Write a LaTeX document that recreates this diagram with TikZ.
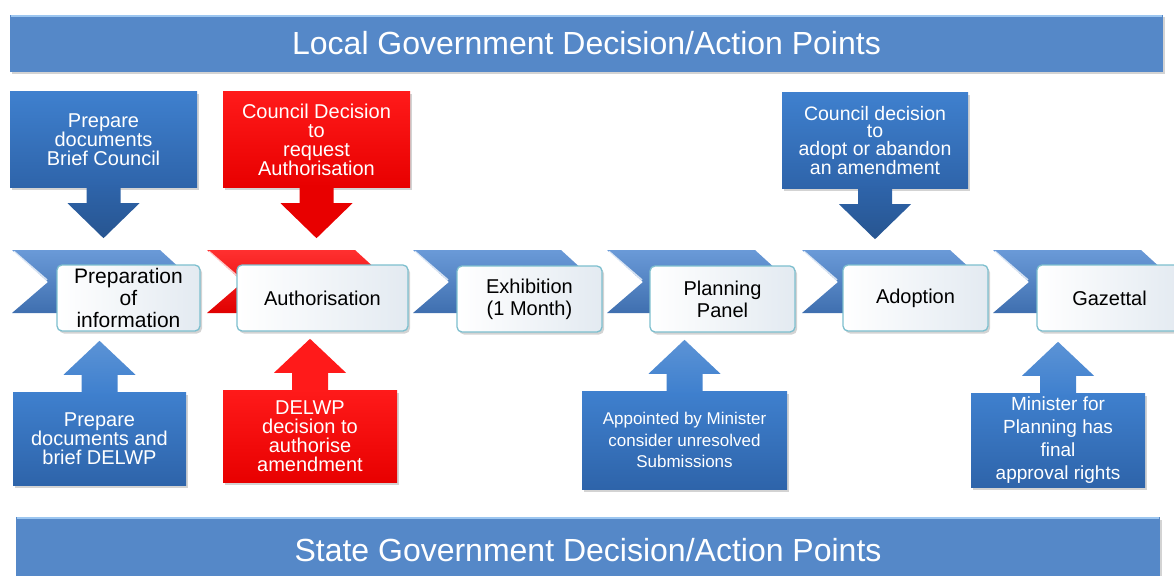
\documentclass[tikz,border=0pt]{standalone}
\usepackage{fontspec}
\setmainfont{Liberation Sans}
\usetikzlibrary{shadows,calc}
\definecolor{bannerblue}{HTML}{5588C8}
\definecolor{bannerlight}{HTML}{9CC6F0}
\definecolor{cbtop}{HTML}{3F80CE}
\definecolor{cbbot}{HTML}{2E64AA}
\definecolor{crtop}{HTML}{FF1A1A}
\definecolor{crbot}{HTML}{E80000}
\definecolor{chtop}{HTML}{6A9AD8}
\definecolor{chbot}{HTML}{3F6FAF}
\definecolor{rchtop}{HTML}{FF3030}
\definecolor{rchbot}{HTML}{E00000}
\definecolor{stepedge}{HTML}{7DBFCE}
\definecolor{stepright}{HTML}{E3EAF1}
\tikzset{
  shd/.style={drop shadow={opacity=0.35, shadow xshift=2pt, shadow yshift=-2.5pt}},
  banner/.style={shd, fill=bannerblue, text=white, font=\fontsize{32}{34}\selectfont, inner sep=0pt},
  bannerrim/.style={bannerlight, line width=2.5pt},
  callblue/.style={shd, top color=cbtop, bottom color=cbbot},
  callred/.style={shd, top color=crtop, bottom color=crbot},
  callout/.style={align=center, text=white, font=\fontsize{20}{19}\selectfont, inner sep=0pt},
  chblue/.style={shd, top color=chtop, bottom color=chbot},
  chred/.style={shd, top color=rchtop, bottom color=rchbot},
  stepbox/.style={shd, rounded corners=5pt, draw=stepedge, line width=1.3pt, left color=white,
    right color=stepright, align=center, text=black, minimum height=66pt,
    font=\fontsize{20}{22}\selectfont, inner sep=0pt},
  chevron/.pic={\path[pic actions] (0,0) -- (148,0) -- (183,32) -- (148,63) -- (0,63) -- (36,32) -- cycle;
    \draw[white, line width=1.6pt, opacity=0.75] (2,1.5) -- (35,30);},
  downfat/.pic={\path[pic actions] (-17,-2) -- (17,-2) -- (17,16) -- (36,16) -- (0,51) -- (-36,16) -- (-17,16) -- cycle;},
  upfat/.pic={\path[pic actions] (-18,2) -- (18,2) -- (18,-17) -- (36,-17) -- (0,-51) -- (-36,-17) -- (-18,-17) -- cycle;},
}
\begin{document}
\begin{tikzpicture}[x=1pt,y=-1pt]
\useasboundingbox (0,0) rectangle (1174,575);

% banners
\node[banner, minimum width=1153pt, minimum height=57pt] (top) at (586.5,43.5) {Local Government Decision/Action Points};
\draw[bannerrim] ($(top.north west)+(1,1.3)$) -- ($(top.north east)+(-1,1.3)$);
\node[banner, minimum width=1144pt, minimum height=66pt] (bottom) at (588,550) {State Government Decision/Action Points};
\draw[bannerrim] ($(bottom.north west)+(1,1.3)$) -- ($(bottom.north east)+(-1,1.3)$);

% chevrons
\pic[chblue] at (12,250) {chevron};
\pic[chred] at (207,250) {chevron};
\pic[chblue] at (413,250) {chevron};
\pic[chblue] at (607,250) {chevron};
\pic[chblue] at (802,250) {chevron};
\pic[chblue] at (993,250) {chevron};

% step boxes
\node[stepbox, minimum width=143pt, font=\fontsize{21}{22}\selectfont] (s1) at (128.5,298) {Preparation\\of\\information};
\node[stepbox, minimum width=171pt] (s2) at (322.5,298) {Authorisation};
\node[stepbox, minimum width=145pt] (s3) at (529.5,299) {Exhibition\\(1 Month)};
\node[stepbox, minimum width=145pt] (s4) at (722.5,299) {Planning\\Panel};
\node[stepbox, minimum width=145pt] (s5) at (915.5,298) {Adoption};
\node[stepbox, minimum width=145pt] (s6) at (1109.5,298) {Gazettal};

% top callouts
\node[callblue, callout, minimum width=187pt, minimum height=95pt] (cA) at (103.5,139.5) {Prepare\\documents\\Brief Council};
\node[callred, callout, minimum width=187pt, minimum height=95pt] (cB) at (316.5,139.5) {Council Decision\\to\\request\\Authorisation};
\node[callblue, callout, minimum width=186pt, minimum height=95pt, font=\fontsize{19.5}{17.5}\selectfont] (cC) at (875,140.5) {Council decision\\to\\adopt or abandon\\an amendment};
\pic[top color=cbbot, bottom color=cbbot!85!black, shd] at (cA.south) {downfat};
\pic[top color=crbot, bottom color=crbot, shd] at (cB.south) {downfat};
\pic[top color=cbbot, bottom color=cbbot!85!black, shd] at (cC.south) {downfat};

% bottom callouts
\node[callblue, callout, minimum width=173pt, minimum height=93pt] (cD) at (99.5,438.5) {Prepare\\documents and\\brief DELWP};
\node[callred, callout, minimum width=174pt, minimum height=92pt] (cE) at (310,436) {DELWP\\decision to\\authorise\\amendment};
\node[callblue, callout, minimum width=205pt, minimum height=98pt, font=\fontsize{17}{21.5}\selectfont] (cF) at (684.5,440) {Appointed by Minister\\consider unresolved\\Submissions};
\node[callblue, callout, minimum width=174pt, minimum height=94pt, font=\fontsize{19}{23}\selectfont] (cG) at (1058,440) {Minister for\\Planning has\\final\\approval rights};
\pic[top color=cbtop!85!white, bottom color=cbtop, shd] at (cD.north) {upfat};
\pic[top color=crtop, bottom color=crtop, shd] at (cE.north) {upfat};
\pic[top color=cbtop!85!white, bottom color=cbtop, shd] at (cF.north) {upfat};
\pic[top color=cbtop!85!white, bottom color=cbtop, shd] at (cG.north) {upfat};
\end{tikzpicture}
\end{document}
